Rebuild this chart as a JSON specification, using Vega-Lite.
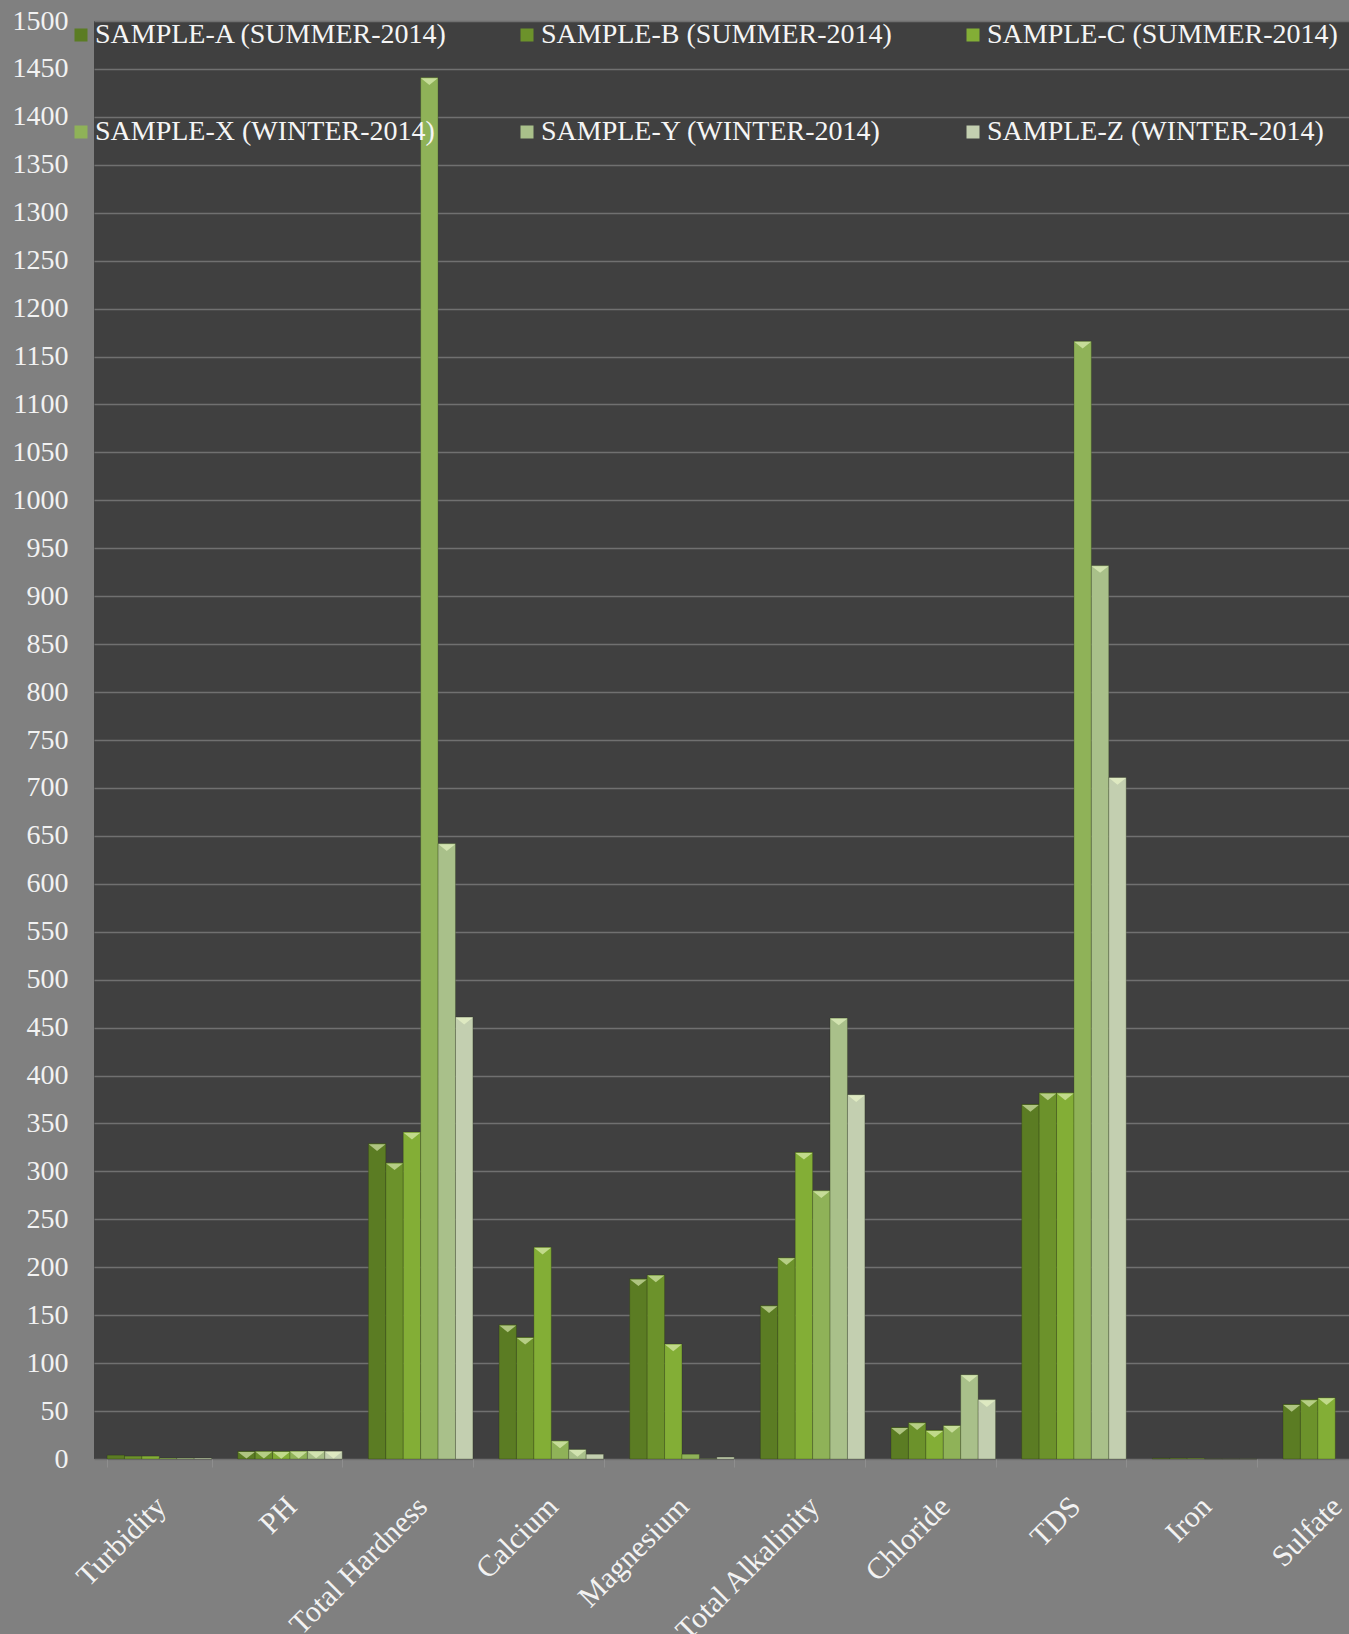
{
  "$schema": "https://vega.github.io/schema/vega-lite/v6.json",
  "width": 1255,
  "height": 1438,
  "autosize": {"type": "none"},
  "padding": {"left": 94, "top": 21, "right": 0, "bottom": 175},
  "background": "#808080",
  "config": {"view": {"fill": "#404040", "stroke": null}, "font": "Liberation Serif"},
  "data": {"values": [
    {"parameter": "Turbidity", "sample": "SAMPLE-A (SUMMER-2014)", "value": 4},
    {"parameter": "Turbidity", "sample": "SAMPLE-B (SUMMER-2014)", "value": 3},
    {"parameter": "Turbidity", "sample": "SAMPLE-C (SUMMER-2014)", "value": 3},
    {"parameter": "Turbidity", "sample": "SAMPLE-X (WINTER-2014)", "value": 1},
    {"parameter": "Turbidity", "sample": "SAMPLE-Y (WINTER-2014)", "value": 1},
    {"parameter": "Turbidity", "sample": "SAMPLE-Z (WINTER-2014)", "value": 1},
    {"parameter": "PH", "sample": "SAMPLE-A (SUMMER-2014)", "value": 8.1},
    {"parameter": "PH", "sample": "SAMPLE-B (SUMMER-2014)", "value": 8.2},
    {"parameter": "PH", "sample": "SAMPLE-C (SUMMER-2014)", "value": 8.0},
    {"parameter": "PH", "sample": "SAMPLE-X (WINTER-2014)", "value": 8.3},
    {"parameter": "PH", "sample": "SAMPLE-Y (WINTER-2014)", "value": 8.4},
    {"parameter": "PH", "sample": "SAMPLE-Z (WINTER-2014)", "value": 8.2},
    {"parameter": "Total Hardness", "sample": "SAMPLE-A (SUMMER-2014)", "value": 329},
    {"parameter": "Total Hardness", "sample": "SAMPLE-B (SUMMER-2014)", "value": 309},
    {"parameter": "Total Hardness", "sample": "SAMPLE-C (SUMMER-2014)", "value": 341},
    {"parameter": "Total Hardness", "sample": "SAMPLE-X (WINTER-2014)", "value": 1441},
    {"parameter": "Total Hardness", "sample": "SAMPLE-Y (WINTER-2014)", "value": 642},
    {"parameter": "Total Hardness", "sample": "SAMPLE-Z (WINTER-2014)", "value": 461},
    {"parameter": "Calcium", "sample": "SAMPLE-A (SUMMER-2014)", "value": 140},
    {"parameter": "Calcium", "sample": "SAMPLE-B (SUMMER-2014)", "value": 127},
    {"parameter": "Calcium", "sample": "SAMPLE-C (SUMMER-2014)", "value": 221},
    {"parameter": "Calcium", "sample": "SAMPLE-X (WINTER-2014)", "value": 19},
    {"parameter": "Calcium", "sample": "SAMPLE-Y (WINTER-2014)", "value": 10},
    {"parameter": "Calcium", "sample": "SAMPLE-Z (WINTER-2014)", "value": 5},
    {"parameter": "Magnesium", "sample": "SAMPLE-A (SUMMER-2014)", "value": 188},
    {"parameter": "Magnesium", "sample": "SAMPLE-B (SUMMER-2014)", "value": 192},
    {"parameter": "Magnesium", "sample": "SAMPLE-C (SUMMER-2014)", "value": 120},
    {"parameter": "Magnesium", "sample": "SAMPLE-X (WINTER-2014)", "value": 5},
    {"parameter": "Magnesium", "sample": "SAMPLE-Y (WINTER-2014)", "value": 0.3},
    {"parameter": "Magnesium", "sample": "SAMPLE-Z (WINTER-2014)", "value": 2},
    {"parameter": "Total Alkalinity", "sample": "SAMPLE-A (SUMMER-2014)", "value": 160},
    {"parameter": "Total Alkalinity", "sample": "SAMPLE-B (SUMMER-2014)", "value": 210},
    {"parameter": "Total Alkalinity", "sample": "SAMPLE-C (SUMMER-2014)", "value": 320},
    {"parameter": "Total Alkalinity", "sample": "SAMPLE-X (WINTER-2014)", "value": 280},
    {"parameter": "Total Alkalinity", "sample": "SAMPLE-Y (WINTER-2014)", "value": 460},
    {"parameter": "Total Alkalinity", "sample": "SAMPLE-Z (WINTER-2014)", "value": 380},
    {"parameter": "Chloride", "sample": "SAMPLE-A (SUMMER-2014)", "value": 33},
    {"parameter": "Chloride", "sample": "SAMPLE-B (SUMMER-2014)", "value": 38},
    {"parameter": "Chloride", "sample": "SAMPLE-C (SUMMER-2014)", "value": 30},
    {"parameter": "Chloride", "sample": "SAMPLE-X (WINTER-2014)", "value": 35},
    {"parameter": "Chloride", "sample": "SAMPLE-Y (WINTER-2014)", "value": 88},
    {"parameter": "Chloride", "sample": "SAMPLE-Z (WINTER-2014)", "value": 62},
    {"parameter": "TDS", "sample": "SAMPLE-A (SUMMER-2014)", "value": 370},
    {"parameter": "TDS", "sample": "SAMPLE-B (SUMMER-2014)", "value": 382},
    {"parameter": "TDS", "sample": "SAMPLE-C (SUMMER-2014)", "value": 382},
    {"parameter": "TDS", "sample": "SAMPLE-X (WINTER-2014)", "value": 1166},
    {"parameter": "TDS", "sample": "SAMPLE-Y (WINTER-2014)", "value": 932},
    {"parameter": "TDS", "sample": "SAMPLE-Z (WINTER-2014)", "value": 711},
    {"parameter": "Iron", "sample": "SAMPLE-A (SUMMER-2014)", "value": 0.8},
    {"parameter": "Iron", "sample": "SAMPLE-B (SUMMER-2014)", "value": 0.8},
    {"parameter": "Iron", "sample": "SAMPLE-C (SUMMER-2014)", "value": 0.7},
    {"parameter": "Iron", "sample": "SAMPLE-X (WINTER-2014)", "value": 0.1},
    {"parameter": "Iron", "sample": "SAMPLE-Y (WINTER-2014)", "value": 0.1},
    {"parameter": "Iron", "sample": "SAMPLE-Z (WINTER-2014)", "value": 0.1},
    {"parameter": "Sulfate", "sample": "SAMPLE-A (SUMMER-2014)", "value": 57},
    {"parameter": "Sulfate", "sample": "SAMPLE-B (SUMMER-2014)", "value": 62},
    {"parameter": "Sulfate", "sample": "SAMPLE-C (SUMMER-2014)", "value": 64}
  ]},
  "encoding": {
    "x": {
      "field": "parameter", "type": "nominal",
      "sort": ["Turbidity", "PH", "Total Hardness", "Calcium", "Magnesium", "Total Alkalinity", "Chloride", "TDS", "Iron", "Sulfate"],
      "scale": {"range": [0, 1306.6], "paddingInner": 0.2, "paddingOuter": 0.1},
      "axis": {
        "title": null, "labelAngle": -45, "labelFontSize": 30, "labelColor": "#f2f2f2",
        "labelFont": "Liberation Serif", "tickBand": "extent", "tickColor": "#8e8e8e", "tickSize": 8,
        "domain": false, "labelPadding": 24, "labelOffset": -9, "grid": false, "labelLimit": 0, "labelOverlap": false
      }
    },
    "xOffset": {
      "field": "sample", "type": "nominal",
      "sort": ["SAMPLE-A (SUMMER-2014)", "SAMPLE-B (SUMMER-2014)", "SAMPLE-C (SUMMER-2014)", "SAMPLE-X (WINTER-2014)", "SAMPLE-Y (WINTER-2014)", "SAMPLE-Z (WINTER-2014)"],
      "scale": {"domain": ["SAMPLE-A (SUMMER-2014)", "SAMPLE-B (SUMMER-2014)", "SAMPLE-C (SUMMER-2014)", "SAMPLE-X (WINTER-2014)", "SAMPLE-Y (WINTER-2014)", "SAMPLE-Z (WINTER-2014)"], "paddingInner": 0, "paddingOuter": 0}
    },
    "y": {
      "field": "value", "type": "quantitative",
      "scale": {"domain": [0, 1500], "nice": false},
      "axis": {
        "title": null, "format": "d", "values": [0,50,100,150,200,250,300,350,400,450,500,550,600,650,700,750,800,850,900,950,1000,1050,1100,1150,1200,1250,1300,1350,1400,1450,1500],
        "labelFontSize": 28, "labelColor": "#f2f2f2", "labelFont": "Liberation Serif", "labelPadding": 26,
        "ticks": false, "domain": false, "gridColor": "#707070", "gridWidth": 1.5
      }
    }
  },
  "layer": [
    {
      "mark": {"type": "bar", "stroke": "#1e2a0a", "strokeOpacity": 0.25, "strokeWidth": 1},
      "encoding": {
        "color": {
          "field": "sample", "type": "nominal",
          "scale": {
            "domain": ["SAMPLE-A (SUMMER-2014)", "SAMPLE-B (SUMMER-2014)", "SAMPLE-C (SUMMER-2014)", "SAMPLE-X (WINTER-2014)", "SAMPLE-Y (WINTER-2014)", "SAMPLE-Z (WINTER-2014)"],
            "range": ["#5b7c23", "#6c922b", "#83ae36", "#8fb258", "#a9c08a", "#c3cfb0"]
          },
          "legend": {
            "title": null, "orient": "none", "legendX": -27, "legendY": 0, "direction": "horizontal",
            "columns": 3, "columnPadding": 65, "rowPadding": 69, "gridAlign": "all",
            "symbolType": "square", "symbolSize": 169, "symbolStrokeWidth": 0, "symbolOpacity": 1,
            "labelFontSize": 28, "labelColor": "#f5f5f5", "labelFont": "Liberation Serif",
            "labelOffset": 0, "labelLimit": 0, "padding": 0
          }
        }
      }
    },
    {
      "transform": [{"filter": "datum.value > 6"}],
      "mark": {"type": "point", "shape": "M-1,-0.4L1,-0.4L0,0.4Z", "filled": true, "color": "#f4ffd0", "opacity": 0.55, "size": 280, "yOffset": 4, "strokeWidth": 0}
    }
  ]
}
